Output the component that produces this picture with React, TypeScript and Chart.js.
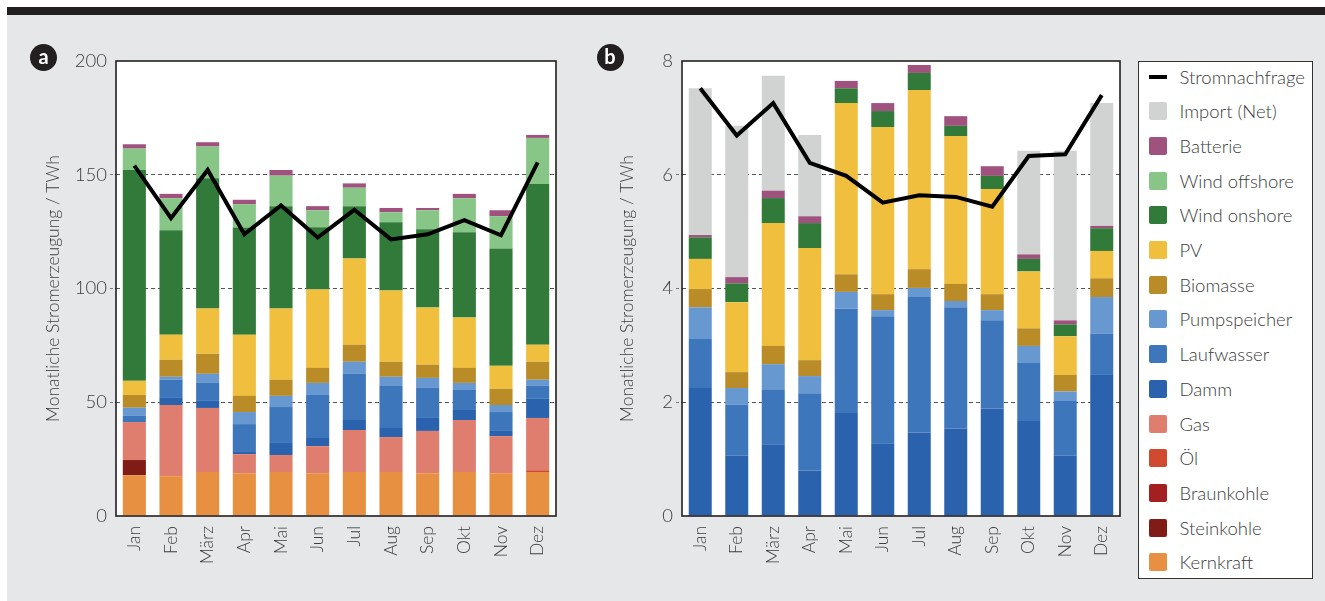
import React, { useEffect, useRef } from "react";
import { Chart, registerables } from "chart.js";
Chart.register(...registerables);

const FONT = "Lato, 'Open Sans', sans-serif";

const months = ["Jan", "Feb", "März", "Apr", "Mai", "Jun", "Jul", "Aug", "Sep", "Okt", "Nov", "Dez"];

// ---- Panel a (TWh) ----
const aKernkraft = [17.9, 17.5, 19.3, 18.8, 19.3, 18.8, 19.3, 19.3, 18.8, 19.3, 18.8, 19.3];
const aSteinkohle = [6.7, 0, 0, 0, 0, 0, 0, 0, 0, 0, 0, 0];
const aBraunkohle = [0, 0, 0, 0, 0, 0, 0, 0, 0, 0, 0, 0];
const aOel = [0, 0, 0, 0, 0, 0, 0, 0, 0, 0, 0, 0.8];
const aGas = [16.7, 31.3, 28.2, 8.4, 7.5, 11.9, 18.5, 15.4, 18.6, 22.9, 16.3, 23.0];
const aDamm = [0, 3.1, 3.1, 1.3, 5.3, 3.6, 4.4, 4.0, 5.7, 4.4, 2.3, 8.4];
const aLaufwasser = [2.7, 8.0, 7.9, 11.9, 15.8, 18.9, 20.3, 18.5, 13.2, 8.8, 8.3, 5.7];
const aPumpspeicher = [3.6, 1.3, 4.0, 5.3, 4.9, 5.3, 5.3, 4.0, 4.4, 3.1, 3.1, 2.7];
const aBiomasse = [5.6, 7.5, 8.8, 7.1, 7.1, 6.6, 7.5, 6.6, 5.8, 6.6, 7.1, 7.9];
const aPV = [6.2, 11.0, 19.9, 26.9, 31.3, 34.5, 37.9, 31.3, 25.1, 22.1, 10.1, 7.5];
const aWindOnshore = [92.7, 45.9, 57.3, 47.1, 45.0, 27.3, 23.0, 30.0, 34.4, 37.5, 51.6, 70.6];
const aWindOffshore = [9.4, 14.1, 13.9, 10.3, 13.4, 7.5, 8.1, 4.4, 8.4, 15.0, 14.2, 20.3];
const aBatterie = [1.9, 1.9, 1.9, 1.9, 2.5, 1.8, 1.9, 1.9, 1.0, 1.9, 2.6, 1.3];
const aNachfrage = [154.0, 130.9, 152.1, 123.8, 136.5, 122.4, 134.6, 121.6, 123.8, 130.0, 123.4, 155.4];
const aTicks = [0, 50, 100, 150, 200];

// ---- Panel b (TWh) ----
const bDamm = [2.25, 1.06, 1.26, 0.8, 1.81, 1.28, 1.47, 1.54, 1.89, 1.67, 1.06, 2.48];
const bLaufwasser = [0.86, 0.9, 0.97, 1.36, 1.84, 2.23, 2.38, 2.13, 1.55, 1.02, 0.96, 0.73];
const bPumpspeicher = [0.56, 0.29, 0.44, 0.3, 0.29, 0.11, 0.16, 0.11, 0.18, 0.3, 0.17, 0.64];
const bBiomasse = [0.32, 0.28, 0.32, 0.28, 0.31, 0.28, 0.33, 0.3, 0.28, 0.31, 0.29, 0.33];
const bPV = [0.53, 1.23, 2.16, 1.97, 3.01, 2.94, 3.15, 2.6, 1.85, 1.0, 0.68, 0.48];
const bWindOnshore = [0.38, 0.33, 0.44, 0.44, 0.26, 0.28, 0.3, 0.18, 0.23, 0.22, 0.21, 0.4];
const bBatterie = [0.04, 0.11, 0.13, 0.12, 0.13, 0.14, 0.14, 0.17, 0.17, 0.08, 0.07, 0.04];
const bImport = [2.58, 2.66, 2.02, 1.43, 0, 0, 0, 0, 0, 1.82, 2.98, 2.16];
const bNachfrage = [7.52, 6.69, 7.26, 6.21, 5.98, 5.51, 5.64, 5.61, 5.44, 6.33, 6.36, 7.4];
const bTicks = [0, 2, 4, 6, 8];

const COLORS: Record<string, string> = {
  Stromnachfrage: "#000000",
  "Import (Net)": "#d1d3d2",
  Batterie: "#a0527e",
  "Wind offshore": "#88c688",
  "Wind onshore": "#327a3a",
  PV: "#f0bf3e",
  Biomasse: "#b98c27",
  Pumpspeicher: "#6898d0",
  Laufwasser: "#3e76bc",
  Damm: "#2a62ae",
  Gas: "#df7e6e",
  "Öl": "#d04a30",
  Braunkohle: "#a31f20",
  Steinkohle: "#801c16",
  Kernkraft: "#e89042",
};

const legendOrder = [
  "Stromnachfrage",
  "Import (Net)",
  "Batterie",
  "Wind offshore",
  "Wind onshore",
  "PV",
  "Biomasse",
  "Pumpspeicher",
  "Laufwasser",
  "Damm",
  "Gas",
  "Öl",
  "Braunkohle",
  "Steinkohle",
  "Kernkraft",
];

const seriesA: [string, number[]][] = [
  ["Kernkraft", aKernkraft],
  ["Steinkohle", aSteinkohle],
  ["Braunkohle", aBraunkohle],
  ["Öl", aOel],
  ["Gas", aGas],
  ["Damm", aDamm],
  ["Laufwasser", aLaufwasser],
  ["Pumpspeicher", aPumpspeicher],
  ["Biomasse", aBiomasse],
  ["PV", aPV],
  ["Wind onshore", aWindOnshore],
  ["Wind offshore", aWindOffshore],
  ["Batterie", aBatterie],
];

const seriesB: [string, number[]][] = [
  ["Damm", bDamm],
  ["Laufwasser", bLaufwasser],
  ["Pumpspeicher", bPumpspeicher],
  ["Biomasse", bBiomasse],
  ["PV", bPV],
  ["Wind onshore", bWindOnshore],
  ["Batterie", bBatterie],
  ["Import (Net)", bImport],
];

const framePlugin = {
  id: "frame",
  beforeDraw(chart: any) {
    const { ctx, chartArea: a } = chart;
    ctx.save();
    ctx.fillStyle = "#ffffff";
    ctx.fillRect(a.left, a.top, a.right - a.left, a.bottom - a.top);
    ctx.restore();
  },
  afterDatasetsDraw(chart: any) {
    const { ctx, chartArea: a } = chart;
    ctx.save();
    ctx.strokeStyle = "#231f20";
    ctx.lineWidth = 1.6;
    ctx.strokeRect(a.left, a.top, a.right - a.left, a.bottom - a.top);
    ctx.restore();
  },
};

function buildConfig(
  series: [string, number[]][],
  demand: number[],
  ticks: number[],
  yWidth: number,
  titleOffset: number,
  padRight: number,
  barPct: number
): any {
  const datasets: any[] = series.map(([name, data]) => ({
    type: "bar",
    label: name,
    data,
    backgroundColor: COLORS[name],
    borderWidth: 0,
    stack: "gen",
    order: 2,
    categoryPercentage: 1,
    barPercentage: barPct,
  }));
  datasets.push({
    type: "line",
    label: "Stromnachfrage",
    data: demand,
    borderColor: "#000000",
    borderWidth: 4,
    pointRadius: 0,
    tension: 0,
    fill: false,
    stack: "demand",
    order: 0,
    borderJoinStyle: "miter",
  });
  const isEdge = (ctx: any) =>
    ctx.tick && (ctx.tick.value === ticks[0] || ctx.tick.value === ticks[ticks.length - 1]);
  return {
    type: "bar",
    data: { labels: months, datasets },
    plugins: [framePlugin],
    options: {
      animation: false,
      responsive: false,
      layout: { padding: { top: 61, right: padRight, bottom: 0, left: 0 } },
      plugins: { legend: { display: false }, tooltip: { enabled: false } },
      scales: {
        x: {
          type: "category",
          offset: true,
          grid: { display: false, drawTicks: false },
          border: { display: false },
          ticks: {
            maxRotation: 90,
            minRotation: 90,
            padding: 10,
            color: "#3c3c3c",
            font: { family: FONT, size: 17.5, weight: 300 },
          },
          afterFit(scale: any) {
            scale.height = 85;
          },
        },
        y: {
          stacked: true,
          min: ticks[0],
          max: ticks[ticks.length - 1],
          afterBuildTicks(scale: any) {
            scale.ticks = ticks.map((v) => ({ value: v }));
          },
          grid: {
            color: (ctx: any) => (isEdge(ctx) ? "rgba(0,0,0,0)" : "#555555"),
            lineWidth: 1,
            drawTicks: true,
            tickLength: 6,
            tickWidth: 1,
            tickColor: (ctx: any) => (isEdge(ctx) ? "rgba(0,0,0,0)" : "#777777"),
            tickBorderDash: [3, 2],
          },
          border: { display: false, dash: [4, 3] },
          ticks: {
            padding: 3,
            color: "#3c3c3c",
            font: { family: FONT, size: 18.5, weight: 300 },
          },
          title: {
            display: true,
            text: "Monatliche Stromerzeugung / TWh",
            color: "#3c3c3c",
            font: { family: FONT, size: 17.5, weight: 300 },
            padding: { top: titleOffset, bottom: 0 },
          },
          afterFit(scale: any) {
            scale.width = yWidth;
          },
        },
      },
    },
  };
}

function ChartCanvas(props: { config: () => any; left: number; width: number }) {
  const ref = useRef<HTMLCanvasElement | null>(null);
  useEffect(() => {
    if (!ref.current) return;
    const chart = new Chart(ref.current, props.config());
    return () => chart.destroy();
  }, []);
  return (
    <canvas
      ref={ref}
      width={props.width}
      height={601}
      style={{ position: "absolute", left: props.left, top: 0, width: props.width, height: 601 }}
    />
  );
}

function Badge(props: { letter: string; x: number; y: number }) {
  return (
    <div
      style={{
        position: "absolute",
        left: props.x - 13.5,
        top: props.y - 13.5,
        width: 27,
        height: 27,
        borderRadius: 13.5,
        background: "#231f20",
        color: "#ffffff",
        fontFamily: FONT,
        fontWeight: 700,
        fontSize: 20,
        lineHeight: "25px",
        textAlign: "center",
      }}
    >
      {props.letter}
    </div>
  );
}

export default function App() {
  return (
    <div style={{ position: "absolute", left: 0, top: 0, width: 1325, height: 601, background: "#ffffff", overflow: "hidden" }}>
      <div style={{ position: "absolute", left: 7, top: 15, width: 1318, height: 586, background: "#e6e7e8" }} />
      <div style={{ position: "absolute", left: 7, top: 7, width: 1318, height: 8, background: "#231f20" }} />
      <ChartCanvas
        left={0}
        width={580}
        config={() => buildConfig(seriesA, aNachfrage, aTicks, 116, 43, 24, 0.63)}
      />
      <ChartCanvas
        left={580}
        width={560}
        config={() => buildConfig(seriesB, bNachfrage, bTicks, 102, 36.5, 20, 0.63)}
      />
      <Badge letter="a" x={43.7} y={57.3} />
      <Badge letter="b" x={610} y={57} />
      <div
        style={{
          position: "absolute",
          left: 1138,
          top: 61,
          width: 173,
          height: 516,
          background: "#ffffff",
          border: "1.5px solid #333333",
        }}
      >
        {legendOrder.map((name, i) => (
          <div key={name} style={{ position: "absolute", left: 0, top: 1.5 + i * 34.7, height: 26, width: 173 }}>
            {name === "Stromnachfrage" ? (
              <div style={{ position: "absolute", left: 9.5, top: 11, width: 18, height: 4, background: "#000" }} />
            ) : (
              <div
                style={{
                  position: "absolute",
                  left: 9.5,
                  top: 4,
                  width: 18,
                  height: 18,
                  borderRadius: 2,
                  background: COLORS[name],
                }}
              />
            )}
            <div
              style={{
                position: "absolute",
                left: 40.5,
                top: 0,
                lineHeight: "26px",
                fontFamily: FONT,
                fontWeight: 300,
                fontSize: 18.5,
                color: "#3c3c3c",
                whiteSpace: "nowrap",
              }}
            >
              {name}
            </div>
          </div>
        ))}
      </div>
    </div>
  );
}
